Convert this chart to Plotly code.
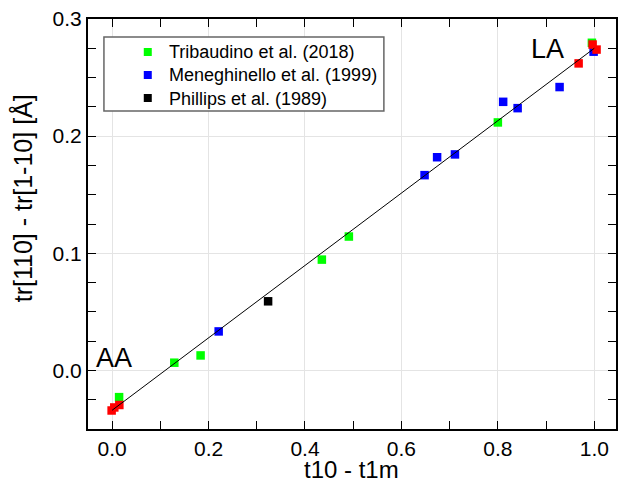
import plotly.graph_objects as go

# Data
trib_x = [0.0145, 0.129, 0.1835, 0.435, 0.491, 0.800, 0.995]
trib_y = [-0.0228, 0.0066, 0.0128, 0.0946, 0.1143, 0.2117, 0.2797]

mene_x = [0.221, 0.648, 0.674, 0.711, 0.811, 0.841, 0.928, 0.9986]
mene_y = [0.0333, 0.1667, 0.182, 0.1844, 0.2293, 0.2239, 0.2419, 0.2721]

phil_x = [0.3235]
phil_y = [0.059]

end_x = [-0.001, 0.0045, 0.015, 0.9675, 0.9965, 1.0047]
end_y = [-0.0342, -0.0316, -0.0295, 0.2621, 0.2782, 0.2739]

fit_x = [0.0, 1.0]
fit_y = [-0.034, 0.275]

legend_names = ["Tribaudino et al. (2018)", "Meneghinello et al. (1999)", "Phillips et al. (1989)"]
legend_colors = ["#00ff00", "#0000ff", "#000000"]

x_title = "t10 - t1m"
y_title = "tr[110] - tr[1-10] [Å]"

FONT = "Liberation Sans, Arial, sans-serif"
W, H = 619, 493
ML, MR, MT, MB = 88, 1, 19, 64
PW, PH = W - ML - MR, H - MT - MB


def px_x(p):
    return (p - ML) / PW


def px_y(p):
    return 1 - (p - MT) / PH


fig = go.Figure()
series = [(trib_x, trib_y, legend_colors[0]), (mene_x, mene_y, legend_colors[1]),
          (phil_x, phil_y, legend_colors[2]), (end_x, end_y, "#ff0000")]
for xs, ys, c in series:
    fig.add_trace(go.Scatter(x=xs, y=ys, mode="markers", showlegend=False,
                             marker=dict(symbol="square", size=8.5, color=c)))
fig.add_trace(go.Scatter(x=fit_x, y=fit_y, mode="lines", showlegend=False,
                         line=dict(color="#000000", width=1)))

axis_common = dict(
    showline=True, linecolor="#000000", linewidth=2, mirror="ticks",
    ticks="inside", ticklen=8, tickwidth=1.2, tickcolor="#000000",
    showgrid=True, gridcolor="#e4e4e4", gridwidth=1, zeroline=False,
    tickfont=dict(family=FONT, size=21, color="#000000"),
)

# legend drawn by hand: box, coloured squares, text lines
row_px = [52, 75, 98]
shapes = [dict(type="rect", xref="paper", yref="paper",
               x0=px_x(104), x1=px_x(385), y0=px_y(111), y1=px_y(37),
               line=dict(color="#666666", width=1.5), fillcolor="white", layer="above")]
for r, c in zip(row_px, legend_colors):
    shapes.append(dict(type="rect", xref="paper", yref="paper",
                       xsizemode="pixel", ysizemode="pixel",
                       xanchor=px_x(148), yanchor=px_y(r),
                       x0=-4, x1=4, y0=-4, y1=4,
                       line=dict(width=0), fillcolor=c, layer="above"))

annotations = [
    dict(text="<br>".join(legend_names), x=px_x(167), y=px_y(75), xref="paper", yref="paper",
         showarrow=False, align="left", xanchor="left", yanchor="middle",
         font=dict(family=FONT, size=18, color="#000000")),
    dict(text="AA", x=0.0035, y=0.0103, xref="x", yref="y", showarrow=False,
         font=dict(family=FONT, size=27, color="#000000"), xanchor="center", yanchor="middle"),
    dict(text="LA", x=0.903, y=0.2744, xref="x", yref="y", showarrow=False,
         font=dict(family=FONT, size=27, color="#000000"), xanchor="center", yanchor="middle"),
    dict(text=x_title, x=px_x(352), y=px_y(469), xref="paper", yref="paper", showarrow=False,
         font=dict(family=FONT, size=24, color="#000000"), xanchor="center", yanchor="middle"),
    dict(text=y_title, x=px_x(23), y=px_y(198), xref="paper", yref="paper", showarrow=False,
         textangle=-90, font=dict(family=FONT, size=25, color="#000000"),
         xanchor="center", yanchor="middle"),
]

fig.update_layout(
    width=W, height=H,
    margin=dict(l=ML, r=MR, t=MT, b=MB),
    plot_bgcolor="white", paper_bgcolor="white",
    font=dict(family=FONT, color="#000000"),
    showlegend=False,
    xaxis=dict(range=[-0.05, 1.045], tick0=0, dtick=0.2, tickformat=".1f",
               minor=dict(dtick=0.1, tick0=0, ticks="inside", ticklen=8, tickcolor="#000000", showgrid=False),
               **axis_common),
    yaxis=dict(range=[-0.05, 0.3], tick0=0, dtick=0.1, tickformat=".1f",
               minor=dict(dtick=0.025, tick0=0, ticks="inside", ticklen=8, tickcolor="#000000", showgrid=False),
               **axis_common),
    shapes=shapes,
    annotations=annotations,
)

fig.write_html("out.html")
